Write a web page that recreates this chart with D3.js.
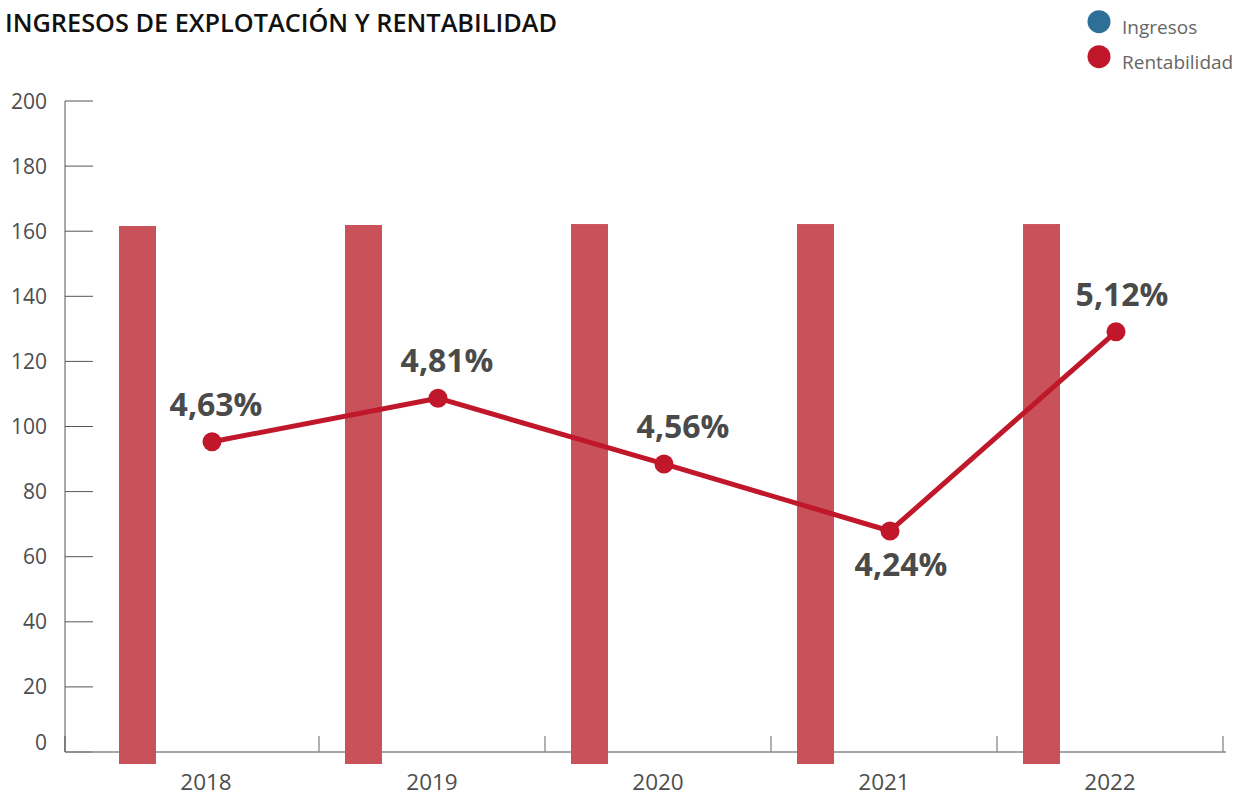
<!DOCTYPE html>
<html lang="es">
<head>
  <meta charset="UTF-8">
  <title>Ingresos de explotación y rentabilidad</title>
  <script src="https://d3js.org/d3.v7.min.js"></script>
  <style>
    body {
      margin: 0;
      background: #fff;
      font-family: "Open Sans", sans-serif;
    }
    svg { display: block; }
  </style>
</head>
<body>
  <div id="chart"></div>
  <script>
    const years = ["2018", "2019", "2020", "2021", "2022"];
    const ingresos = [161.6, 161.9, 162.2, 162.2, 162.2];
    const rentabilidad = [95.3, 108.7, 88.5, 67.9, 129.1];
    const rentLabels = ["4,63%", "4,81%", "4,56%", "4,24%", "5,12%"];
    const yTicks = [0, 20, 40, 60, 80, 100, 120, 140, 160, 180, 200];
    const legendItems = ["Ingresos", "Rentabilidad"];

    const W = 1240, H = 798;
    const barColor = "#c9525a", lineColor = "#c0182a", ingColor = "#2d6f96";

    const svg = d3.select("#chart").append("svg")
      .attr("width", W).attr("height", H);

    const x = d3.scaleBand().domain(years).range([93, 1223]).padding(0);
    const y = d3.scaleLinear().domain([0, 200]).range([752, 101]);

    // title
    svg.append("text")
      .attr("x", 5).attr("y", 32)
      .attr("font-size", 24.5).attr("font-weight", 600)
      .attr("fill", "#111")
      .attr("textLength", 552)
      .attr("lengthAdjust", "spacingAndGlyphs")
      .text("INGRESOS DE EXPLOTACIÓN Y RENTABILIDAD");

    // legend
    const legend = svg.selectAll("g.legend")
      .data(legendItems)
      .enter().append("g")
      .attr("class", "legend")
      .attr("transform", (d, i) => `translate(1099,${21.7 + i * 35})`);
    legend.append("circle")
      .attr("r", 11.5)
      .attr("fill", (d, i) => i === 0 ? ingColor : lineColor);
    legend.append("text")
      .attr("x", 23).attr("y", 12)
      .attr("font-size", 19).attr("fill", "#666")
      .text(d => d);

    // y axis
    const yAxis = svg.append("g");
    yAxis.append("line")
      .attr("x1", 65).attr("x2", 65)
      .attr("y1", y(200)).attr("y2", y(0))
      .attr("stroke", "#555").attr("stroke-width", 1);
    yAxis.selectAll("line.tick")
      .data(yTicks)
      .enter().append("line")
      .attr("class", "tick")
      .attr("x1", 65).attr("x2", 93)
      .attr("y1", d => y(d)).attr("y2", d => y(d))
      .attr("stroke", "#555").attr("stroke-width", 1);
    yAxis.selectAll("text")
      .data(yTicks)
      .enter().append("text")
      .attr("x", 47)
      .attr("y", d => y(d) - (d === 0 ? 10 : 0))
      .attr("dy", "0.36em")
      .attr("text-anchor", "end")
      .attr("font-size", 21).attr("fill", "#4d4d4d")
      .text(d => d);

    // x axis
    const xAxis = svg.append("g");
    xAxis.append("line")
      .attr("x1", 65).attr("x2", 1226)
      .attr("y1", y(0)).attr("y2", y(0))
      .attr("stroke", "#888").attr("stroke-width", 1.3);
    xAxis.selectAll("line.tick")
      .data(years)
      .enter().append("line")
      .attr("class", "tick")
      .attr("x1", d => x(d) + x.bandwidth()).attr("x2", d => x(d) + x.bandwidth())
      .attr("y1", y(0) - 16).attr("y2", y(0))
      .attr("stroke", "#888").attr("stroke-width", 1.3);
    xAxis.append("line")
      .attr("x1", 65).attr("x2", 65)
      .attr("y1", y(0) - 16).attr("y2", y(0))
      .attr("stroke", "#555");
    xAxis.selectAll("text")
      .data(years)
      .enter().append("text")
      .attr("x", d => x(d) + x.bandwidth() / 2)
      .attr("y", 790)
      .attr("text-anchor", "middle")
      .attr("font-size", 22.5).attr("fill", "#4d4d4d")
      .text(d => d);

    // bars
    svg.selectAll("rect.bar")
      .data(years)
      .enter().append("rect")
      .attr("class", "bar")
      .attr("x", d => x(d) + 26)
      .attr("width", 37)
      .attr("y", (d, i) => y(ingresos[i]))
      .attr("height", (d, i) => y(0) - y(ingresos[i]) + 12)
      .attr("fill", barColor);

    // line
    const px = d => x(d) + x.bandwidth() / 2 + 6;
    const pts = years.map((d, i) => [px(d), y(rentabilidad[i])]);
    svg.append("path")
      .attr("d", d3.line()(pts))
      .attr("fill", "none")
      .attr("stroke", lineColor)
      .attr("stroke-width", 5)
      .attr("stroke-linejoin", "round");
    svg.selectAll("circle.pt")
      .data(pts)
      .enter().append("circle")
      .attr("class", "pt")
      .attr("cx", d => d[0]).attr("cy", d => d[1])
      .attr("r", 9.5)
      .attr("fill", lineColor);

    // value labels
    const below = new Set(["2021"]);
    const shiftX = { "2018": 4, "2019": 9, "2020": 19, "2021": 11, "2022": 6 };
    svg.selectAll("text.val")
      .data(years)
      .enter().append("text")
      .attr("class", "val")
      .attr("x", (d, i) => pts[i][0] + shiftX[d])
      .attr("y", (d, i) => below.has(d) ? pts[i][1] + 45 : pts[i][1] - 26)
      .attr("text-anchor", "middle")
      .attr("font-size", 32).attr("font-weight", 700)
      .attr("fill", "#4a4a4a")
      .text((d, i) => rentLabels[i]);
  </script>
</body>
</html>
